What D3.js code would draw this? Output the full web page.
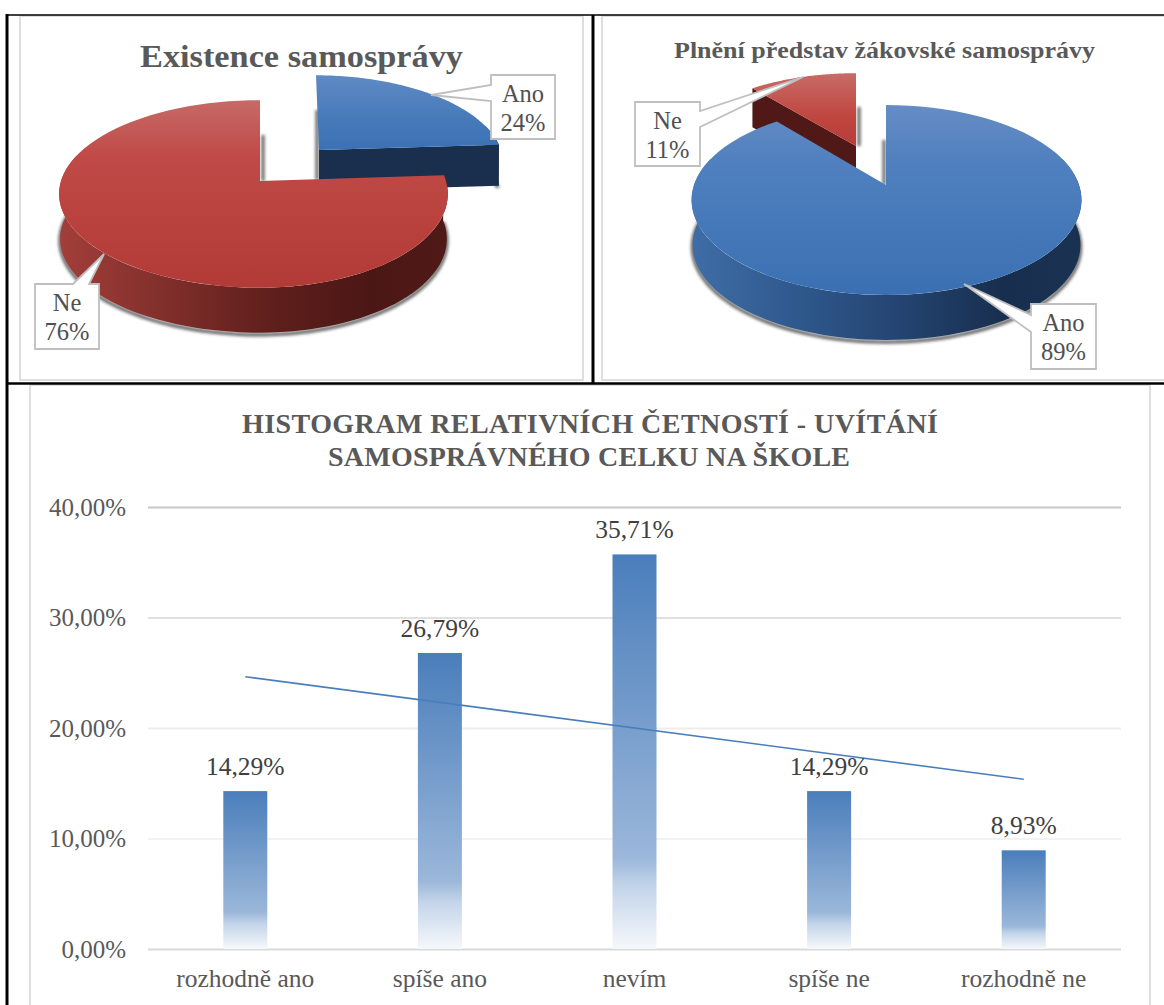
<!DOCTYPE html>
<html><head><meta charset="utf-8">
<script src="https://cdn.jsdelivr.net/npm/d3@7"></script>
<style>html,body{margin:0;padding:0;background:#fff;overflow:hidden}svg{display:block}text{font-family:"Liberation Serif",serif}</style>
</head><body><svg id="c" width="1164" height="1005"></svg>
<script>
const pie1Labels=["Ano","Ne"], pie1Values=[24,76];
const pie2Labels=["Ne","Ano"], pie2Values=[11,89];
const barCategories=["rozhodně ano","spíše ano","nevím","spíše ne","rozhodně ne"];
const barValues=[14.29,26.79,35.71,14.29,8.93];
const barLabels=["14,29%","26,79%","35,71%","14,29%","8,93%"];
const yTicks=[0,10,20,30,40];
const trendValues=[24.64,15.36];
const title1="Existence samosprávy", title2="Plnění představ žákovské samosprávy";
const title3=["HISTOGRAM RELATIVNÍCH ČETNOSTÍ - UVÍTÁNÍ","SAMOSPRÁVNÉHO CELKU NA ŠKOLE"];

const svg=d3.select("#c"), defs=svg.append("defs");
function grad(id,stops,h){
  const g=defs.append("linearGradient").attr("id",id).attr("x1",0).attr("y1",0).attr("x2",h?1:0).attr("y2",h?0:1);
  stops.forEach(s=>g.append("stop").attr("offset",s[0]).attr("stop-color",s[1]));
}
grad("redTop",[[0,"#c66a67"],[.3,"#c04a47"],[1,"#b23a37"]]);
grad("blueTop",[[0,"#668dc4"],[.3,"#5080bf"],[1,"#3a70b2"]]);
grad("blueTopB",[[0,"#5f8ac4"],[.6,"#4679ba"],[1,"#3b72b5"]]);
grad("redTopB",[[0,"#c86b68"],[.6,"#c0463f"],[1,"#b83c39"]]);
grad("redWall",[[0,"#a33e3a"],[.25,"#83302c"],[.55,"#5f1f1c"],[.8,"#4b1715"],[1,"#501917"]],true);
grad("blueWall",[[0,"#3f6da6"],[.25,"#305a8f"],[.55,"#23436f"],[.8,"#182e4e"],[1,"#1a3252"]],true);
grad("barFill",[[0,"#4a7ebb"],[.77,"#9bb7da"],[.84,"#c3d4e9"],[1,"#f6f8fb"]]);
const fl=defs.append("filter").attr("id","blur").attr("filterUnits","userSpaceOnUse")
  .attr("x",0).attr("y",0).attr("width",1164).attr("height",1005);
fl.append("feGaussianBlur").attr("stdDeviation",1.6);

// frames
const frame=svg.append("g");
[[20,16,563,364],[602,16,570,364],[30,385,1120,640]].forEach(r=>frame.append("rect")
  .attr("x",r[0]).attr("y",r[1]).attr("width",r[2]).attr("height",r[3]).attr("fill","#fff").attr("stroke","#dedede").attr("stroke-width",2));
[[6,15,1164,15,1.5],[7,14,7,1005,3],[593,15,593,383,3],[6,383.5,1164,383.5,2.5]].forEach(l=>frame.append("line")
  .attr("x1",l[0]).attr("y1",l[1]).attr("x2",l[2]).attr("y2",l[3]).attr("stroke","#000").attr("stroke-width",l[4]));

// projected pie slice: hub + perspective on a tilted disc
function proj(s,theta){
  const u=Math.sin(theta), v=-Math.cos(theta), w=1-s.k*v;
  return [s.x+(u<0?s.bL:s.bR)*u/w+(s.sk||0)*v, s.y+s.a*v/w];
}
function samples(a0,a1){return d3.range(0,81).map(i=>a0+(a1-a0)*i/80);}
const line=d3.line();
const lower=(s,p)=>[s.x+(p[0]-s.x)*.995,p[1]+s.d];
function drawSlice(g,s,slice,top,wall){
  const a0=slice.startAngle,a1=slice.endAngle;
  const rim=samples(a0,a1).map(t=>proj(s,t));
  const face=[[s.x,s.y],...rim];
  const lo=Math.PI/2-0.3, hi=Math.PI*1.5+0.3;
  const from=Math.max(a0,lo), to=Math.min(a1,hi);
  const arc=to>from?samples(from,to).map(t=>proj(s,t)):[];
  // soft shadows: under the outer wall and beside the straight edge
  if(arc.length) g.append("path").attr("d",line(arc.map(p=>lower(s,p)))).attr("fill","none")
    .attr("stroke","#222").attr("stroke-width",3.5).attr("opacity",.7)
    .attr("transform","translate(0,2)").attr("filter","url(#blur)");
  if(s.edge) g.append("path").attr("d",line([[s.x+s.edge[0],s.y-s.edge[1]],[s.x+s.edge[0],s.y+(s.edge[2]||0)]])).attr("fill","none")
    .attr("stroke","#222").attr("stroke-width",3).attr("opacity",.75).attr("filter","url(#blur)");
  // visible straight cut wall
  if(s.cutAt!==undefined){
    const p=proj(s,s.cutAt?a1:a0);
    g.append("path").attr("d",line([[s.x,s.y],p,[p[0],p[1]+s.d],[s.x,s.y+s.d]])+"Z").attr("fill",s.cut);
  }
  // outer wall
  if(arc.length) g.append("path").attr("d",line([...arc,...arc.slice().reverse().map(p=>lower(s,p))])+"Z").attr("fill",wall);
  g.append("path").attr("d",line(face)+"Z").attr("fill",top);
}
function slices(values,start){
  return d3.pie().sort(null).startAngle(start).endAngle(start+2*Math.PI)(values);
}
function calloutPath(b,tip,p,q){
  const x0=b[0],y0=b[1],x1=b[0]+b[2],y1=b[1]+b[3];
  if(p[0]===x0) return [[x0,y0],[x1,y0],[x1,y1],[x0,y1],q,tip,p];
  if(p[0]===x1) return [[x0,y0],[x1,y0],p,tip,q,[x1,y1],[x0,y1]];
  return [[x0,y0],p,tip,q,[x1,y0],[x1,y1],[x0,y1]];
}
function callout(g,box,tip,b1,b2,lines){
  g.append("path").attr("d",line(calloutPath(box,tip,b1,b2))+"Z")
    .attr("fill","#fff").attr("stroke","#bfbfbf").attr("stroke-width",1.8);
  lines.forEach((t,i)=>g.append("text").attr("x",box[0]+box[2]/2).attr("y",box[1]+27+i*29)
    .attr("text-anchor","middle").attr("font-size",24.5).attr("fill","#505050").text(t));
}

// chart 1
const g1=svg.append("g");
const s1=slices(pie1Values,0);
const cfg1b={x:319,y:150,k:.138,a:85,bL:183,bR:182,sk:3,d:41,cut:"#1a2f4d",cutAt:1,edge:[-2,40,30]};
const cfg1r={x:260,y:181,k:.138,a:92,bL:199,bR:186,d:45,cut:"#501917",edge:[3,46,0]};
drawSlice(g1,cfg1b,s1[0],"url(#blueTopB)","#1a2f4d");
drawSlice(g1,cfg1r,s1[1],"url(#redTop)","url(#redWall)");
g1.append("text").attr("x",301.5).attr("y",67).attr("text-anchor","middle").attr("font-size",32).attr("font-weight","bold")
  .attr("fill","#595959").attr("textLength",323).attr("lengthAdjust","spacingAndGlyphs").text(title1);
callout(g1,[491,75,64,64],[431,95],[491,85],[491,101],[pie1Labels[0],pie1Values[0]+"%"]);
callout(g1,[35,284,64,65],[104,254],[73,284],[89,284],[pie1Labels[1],pie1Values[1]+"%"]);

// chart 2
const g2=svg.append("g");
const a2=-2*Math.PI*pie2Values[0]/100;
const s2=slices(pie2Values,a2);
const cfg2r={x:856,y:146,k:.14,a:83,bL:180,bR:180,d:39,cut:"#501917",cutAt:0,edge:[3,39,0]};
const cfg2b={x:886,y:185,k:.158,a:92.6,bL:192,bR:193,d:45,cut:"#1a3252",edge:[-2,45,0]};
drawSlice(g2,cfg2r,s2[0],"url(#redTopB)","#501917");
drawSlice(g2,cfg2b,{startAngle:0,endAngle:s2[1].endAngle},"url(#blueTop)","url(#blueWall)");
g2.append("text").attr("x",884.5).attr("y",58).attr("text-anchor","middle").attr("font-size",23).attr("font-weight","bold")
  .attr("fill","#595959").attr("textLength",421).attr("lengthAdjust","spacingAndGlyphs").text(title2);
callout(g2,[635,102,65,64],[803,77],[700,111],[700,127],[pie2Labels[0],pie2Values[0]+"%"]);
callout(g2,[1031,304,65,65],[964,284],[1031,315],[1031,332],[pie2Labels[1],pie2Values[1]+"%"]);

// bar chart
const x=d3.scaleBand().domain(barCategories).range([148,1121]);
const y=d3.scaleLinear().domain([0,40]).range([949,507]);
const gridCol={0:"#d9d9d9",10:"#f2f2f2",20:"#ededed",30:"#e0e0e0",40:"#c8c8c8"};
const ga=svg.append("g").attr("transform","translate(148,0)")
  .call(d3.axisLeft(y).tickValues(yTicks).tickSize(0).tickPadding(22).tickFormat(d=>d3.format(".2f")(d).replace(".",",")+"%"));
ga.select(".domain").remove();
ga.selectAll("text").attr("font-size",25).attr("fill","#595959").style("font-family",'"Liberation Serif",serif');
ga.selectAll("line").attr("x2",973).attr("stroke",d=>gridCol[d]).attr("stroke-width",2);
const gx=svg.append("g").attr("transform","translate(0,949)").call(d3.axisBottom(x).tickSize(0).tickPadding(20));
gx.select(".domain").remove();
gx.selectAll("text").attr("font-size",25.5).attr("fill","#595959").style("font-family",'"Liberation Serif",serif');
const bw=44;
svg.append("g").selectAll("rect").data(barValues).join("rect")
  .attr("x",(d,i)=>x(barCategories[i])+x.bandwidth()/2-bw/2).attr("width",bw)
  .attr("y",d=>y(d)).attr("height",d=>y(0)-y(d)).attr("fill","url(#barFill)");
svg.append("path").attr("d",d3.line()([
  [x(barCategories[0])+x.bandwidth()/2,y(trendValues[0])],
  [x(barCategories[4])+x.bandwidth()/2,y(trendValues[1])]]))
  .attr("stroke","#4a7ebb").attr("stroke-width",1.6).attr("fill","none");
svg.append("g").selectAll("text").data(barValues).join("text")
  .attr("x",(d,i)=>x(barCategories[i])+x.bandwidth()/2).attr("y",d=>y(d)-16)
  .attr("text-anchor","middle").attr("font-size",25.5).attr("fill","#404040").text((d,i)=>barLabels[i]);
const tw=[696,522], ty=[433,466];
title3.forEach((t,i)=>svg.append("text").attr("x",590-(i?1:0)).attr("y",ty[i]).attr("text-anchor","middle")
  .attr("font-size",28).attr("font-weight","bold").attr("fill","#595959")
  .attr("textLength",tw[i]).attr("lengthAdjust","spacing").text(t));
</script></body></html>
